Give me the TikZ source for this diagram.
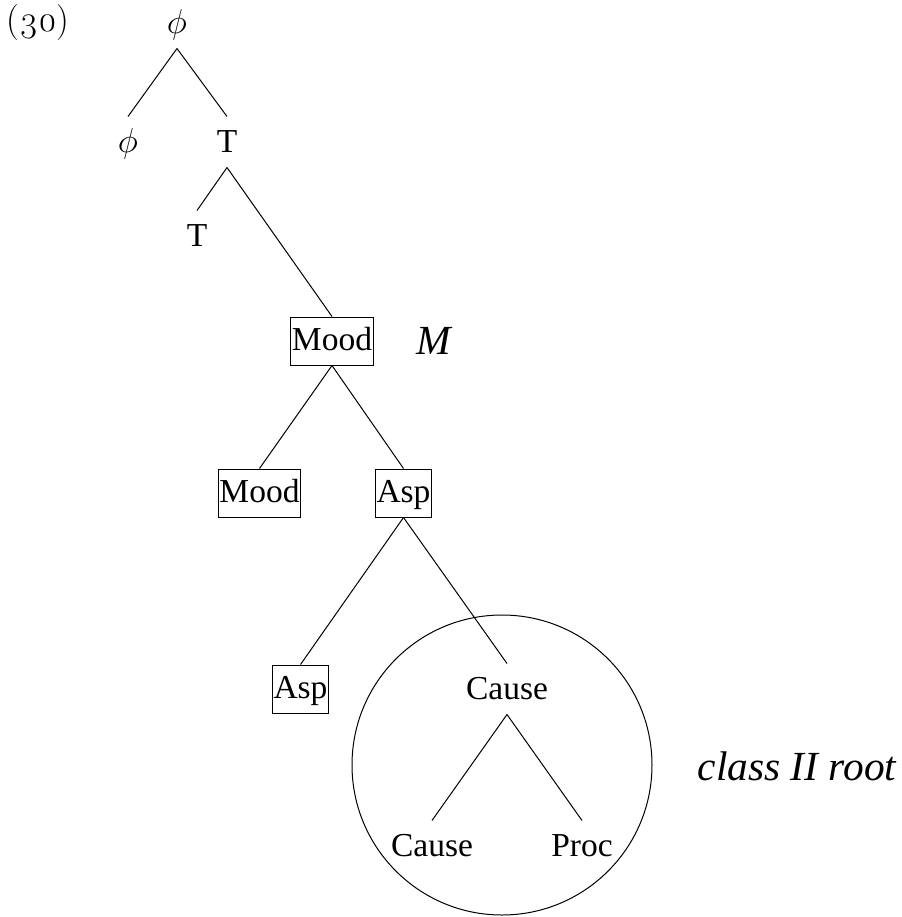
\documentclass[tikz,border=0pt]{standalone}
\usepackage{fontspec}
\setmainfont{Liberation Serif}
\newfontfamily\numfont[Numbers=OldStyle]{Latin Modern Roman}
\usepackage{tikz}

\begin{document}
\begin{tikzpicture}[x=0.5pt,y=-0.5pt,line width=0.5pt,
   lab/.style={anchor=base,inner sep=0pt,text height=17.5pt,text depth=7.5pt,font=\fontsize{16.75}{20}\selectfont},
   hd/.style={anchor=base,draw,inner xsep=0.6pt,inner ysep=0pt,text height=16.5pt,text depth=7.5pt,font=\fontsize{16.75}{20}\selectfont},
   note/.style={anchor=base,inner sep=0pt,font=\fontsize{20.7}{24}\selectfont\itshape}]
\useasboundingbox (0,0) rectangle (901,917);
   \draw (38,31) node[anchor=base,inner sep=0pt,font=\fontsize{18}{21}\numfont] (ex) {(30)};
   \draw (177,33) node[lab,font=\fontsize{16}{19}\selectfont] (phi) {$\phi$};
  \draw (128,152) node[lab,font=\fontsize{16}{19}\selectfont] (phispec) {$\phi$};
  \draw (227,152) node[lab] (tbar) {T};
    \draw (197,246) node[lab] (t) {T};
    \draw (332,350) node[hd] (moodbar) {Mood};
    \draw (434,354) node[note] (mlab) {M};
     \draw (259.5,502) node[hd] (mood) {Mood};
     \draw (403.5,502) node[hd] (aspbar) {Asp};
     \draw (300.5,698) node[hd] (asp) {Asp};
     \draw (507,699) node[lab] (causebar) {Cause};
      \draw (432,856) node[lab] (cause) {Cause};
      \draw (582,856) node[lab] (proc) {Proc};
      \draw (797,780) node[note] (rootlab) {class II root};

      \path[-] (phi.south) edge (phispec.north);
      \path[-] (phi.south) edge (tbar.north);
      \path[-] (tbar.south) edge (t.north);
      \path[-] (tbar.south) edge (moodbar.north);
      \path[-] (moodbar.south) edge (mood.north);
      \path[-] (moodbar.south) edge (aspbar.north);
      \path[-] (aspbar.south) edge (asp.north);
      \path[-] (aspbar.south) edge (causebar.north);
      \path[-] (causebar.south) edge (cause.north);
      \path[-] (causebar.south) edge (proc.north);

      \draw (502,765) circle [radius=75pt];
\end{tikzpicture}
\end{document}
